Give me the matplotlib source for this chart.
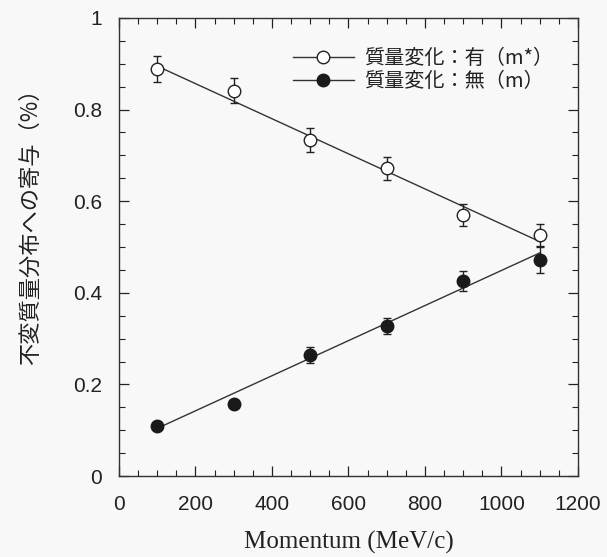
import matplotlib
matplotlib.use("Agg")
import matplotlib.pyplot as plt
from matplotlib.lines import Line2D
from matplotlib.ticker import MultipleLocator
import numpy as np

# momentum points (MeV/c)
momentum = [100, 300, 500, 700, 900, 1100]

# contribution with mass change (m*)
with_mass = [0.888, 0.841, 0.734, 0.672, 0.570, 0.526]
with_mass_err = [0.028, 0.027, 0.026, 0.025, 0.024, 0.024]

# contribution without mass change (m)
no_mass = [0.109, 0.157, 0.264, 0.327, 0.426, 0.472]
no_mass_err = [0.005, 0.006, 0.018, 0.018, 0.022, 0.028]

# straight-line fits, value at 100 and 1100 MeV/c
fit_x = [100, 1100]
fit_with = [0.895, 0.512]
fit_no = [0.104, 0.487]

y_ticks = [0, 0.2, 0.4, 0.6, 0.8, 1]
y_tick_labels = ['0', '0.2', '0.4', '0.6', '0.8', '1']

label_with = "質量変化：有（m*）"
label_no = "質量変化：無（m）"

plt.rcParams['font.family'] = ['Liberation Sans', 'DejaVu Sans']

fig = plt.figure(figsize=(6.07, 5.57), dpi=100, facecolor='#f8f8f8')
ax = fig.add_axes([0.196, 0.1454, 0.756, 0.8223])
ax.set_facecolor('#f8f8f8')

ax.plot(fit_x, fit_with, color='#333333', lw=1.0)
ax.plot(fit_x, fit_no, color='#333333', lw=1.0)

ax.errorbar(momentum, with_mass, yerr=with_mass_err, fmt='o', ms=9,
            mfc='white', mec='#222222', mew=1.0, ecolor='#222222',
            elinewidth=1.0, capsize=3, zorder=3)
ax.errorbar(momentum, no_mass, yerr=no_mass_err, fmt='o', ms=9,
            mfc='#1a1a1a', mec='#1a1a1a', ecolor='#222222',
            elinewidth=1.0, capsize=3, zorder=3)

ax.set_xlim(0, 1200)
ax.set_ylim(0, 1)
ax.xaxis.set_major_locator(MultipleLocator(200))
ax.xaxis.set_minor_locator(MultipleLocator(50))
ax.set_yticks(y_ticks, y_tick_labels)
ax.yaxis.set_minor_locator(MultipleLocator(0.05))
ax.tick_params(which='both', direction='in', top=True, right=True,
               labelsize=15, colors='#222222')
ax.tick_params(axis='x', pad=14)
ax.tick_params(axis='y', pad=12)
ax.tick_params(which='major', length=7, width=0.9)
ax.tick_params(which='minor', length=4, width=0.8)
for s in ax.spines.values():
    s.set_linewidth(1.0)
    s.set_color('#333333')

ax.set_xlabel("Momentum (MeV/c)", family='Liberation Serif', fontsize=18,
              color='#222222', labelpad=12)
ax.set_ylabel("不変質量分布への寄与（%）", family=['Noto Sans CJK JP', 'DejaVu Sans'],
              fontsize=16, color='#222222')
ax.yaxis.set_label_coords(-0.168, 0.556)

handles = [
    Line2D([], [], color='#333333', lw=1.0, marker='o', ms=9,
           mfc='white', mec='#222222'),
    Line2D([], [], color='#333333', lw=1.0, marker='o', ms=9,
           mfc='#1a1a1a', mec='#1a1a1a'),
]
leg = ax.legend(handles, [label_with, label_no], loc='upper right',
                bbox_to_anchor=(0.985, 0.975), frameon=False, handlelength=3.0,
                handletextpad=0.5, labelspacing=0.1,
                prop={'family': ['Noto Sans CJK JP', 'DejaVu Sans'], 'size': 14.5})
for t in leg.get_texts():
    t.set_color('#222222')

fig.savefig("out.png", dpi=100, facecolor=fig.get_facecolor())
